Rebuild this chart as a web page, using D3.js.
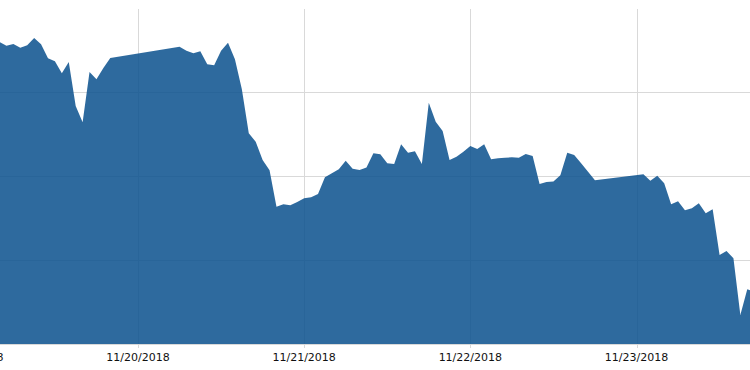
<!DOCTYPE html>
<html>
<head>
<meta charset="utf-8">
<script src="https://cdn.jsdelivr.net/npm/d3@7"></script>
<style>
  html, body { margin: 0; padding: 0; background: #fff; }
  svg { display: block; }
</style>
</head>
<body>
<div id="chart"></div>
<script>
// hourly readings, gaps are hours with no data
const times = [
  "2018-11-19 04:00", "2018-11-19 05:00", "2018-11-19 06:00", "2018-11-19 07:00",
  "2018-11-19 08:00", "2018-11-19 09:00", "2018-11-19 10:00", "2018-11-19 11:00",
  "2018-11-19 12:00", "2018-11-19 13:00", "2018-11-19 14:00", "2018-11-19 15:00",
  "2018-11-19 16:00", "2018-11-19 17:00", "2018-11-19 18:00", "2018-11-19 19:00",
  "2018-11-19 20:00",
  "2018-11-20 06:00", "2018-11-20 07:00", "2018-11-20 08:00", "2018-11-20 09:00",
  "2018-11-20 10:00", "2018-11-20 11:00", "2018-11-20 12:00", "2018-11-20 13:00",
  "2018-11-20 14:00", "2018-11-20 15:00", "2018-11-20 16:00", "2018-11-20 17:00",
  "2018-11-20 18:00", "2018-11-20 19:00", "2018-11-20 20:00", "2018-11-20 21:00",
  "2018-11-20 22:00", "2018-11-20 23:00", "2018-11-21 00:00", "2018-11-21 01:00",
  "2018-11-21 02:00", "2018-11-21 03:00", "2018-11-21 04:00", "2018-11-21 05:00",
  "2018-11-21 06:00", "2018-11-21 07:00", "2018-11-21 08:00", "2018-11-21 09:00",
  "2018-11-21 10:00", "2018-11-21 11:00", "2018-11-21 12:00", "2018-11-21 13:00",
  "2018-11-21 14:00", "2018-11-21 15:00", "2018-11-21 16:00", "2018-11-21 17:00",
  "2018-11-21 18:00", "2018-11-21 19:00", "2018-11-21 20:00", "2018-11-21 21:00",
  "2018-11-21 22:00", "2018-11-21 23:00", "2018-11-22 00:00", "2018-11-22 01:00",
  "2018-11-22 02:00", "2018-11-22 03:00", "2018-11-22 04:00", "2018-11-22 05:00",
  "2018-11-22 06:00", "2018-11-22 07:00", "2018-11-22 08:00", "2018-11-22 09:00",
  "2018-11-22 10:00", "2018-11-22 11:00", "2018-11-22 12:00", "2018-11-22 13:00",
  "2018-11-22 14:00", "2018-11-22 15:00", "2018-11-22 16:00", "2018-11-22 17:00",
  "2018-11-22 18:00",
  "2018-11-23 01:00", "2018-11-23 02:00", "2018-11-23 03:00", "2018-11-23 04:00",
  "2018-11-23 05:00", "2018-11-23 06:00", "2018-11-23 07:00", "2018-11-23 08:00",
  "2018-11-23 09:00", "2018-11-23 10:00", "2018-11-23 11:00", "2018-11-23 12:00",
  "2018-11-23 13:00", "2018-11-23 14:00", "2018-11-23 15:00", "2018-11-23 16:00",
  "2018-11-23 17:00"
];

const prices = [
  157.98, 157.76, 157.86, 157.64, 157.78, 158.21, 157.84, 157.01,
  156.83, 156.11, 156.79, 154.17, 153.20, 156.19, 155.76, 156.43,
  157.02,
  157.70, 157.46, 157.30, 157.42, 156.65, 156.59, 157.46, 157.93,
  156.95, 155.16, 152.54, 152.04, 150.95, 150.34, 148.17, 148.32,
  148.26, 148.45, 148.67, 148.73, 148.93, 149.92, 150.16, 150.40,
  150.91, 150.43, 150.36, 150.51, 151.35, 151.29, 150.76, 150.71,
  151.89, 151.39, 151.47, 150.71, 154.36, 153.23, 152.68, 150.95,
  151.15, 151.45, 151.79, 151.61, 151.89, 150.99, 151.05, 151.09,
  151.11, 151.09, 151.31, 151.19, 149.52, 149.64, 149.68, 150.04,
  151.39, 151.25, 150.76, 150.26, 149.74,
  150.10, 149.72, 150.02, 149.57, 148.32, 148.49, 147.96, 148.08,
  148.38, 147.78, 148.02, 145.30, 145.54, 145.10, 141.73, 143.26,
  143.10
];

const yTicks = [140, 145, 150, 155, 160];
// 11/19 sits mostly left of the visible area, only its last digit shows
const dayTicks = ["2018-11-19", "2018-11-20", "2018-11-21", "2018-11-22", "2018-11-23"];

const W = 750, H = 370;
const plotTop = 8, plotBottom = 344;

const parseTime = d3.timeParse("%Y-%m-%d %H:%M");
const parseDay = d3.timeParse("%Y-%m-%d");
const fmt = d3.timeFormat("%m/%d/%Y");

const data = times.map((t, i) => ({ t: parseTime(t), v: prices[i] }));

const x = d3.scaleTime()
  .domain([parseDay("2018-11-20"), parseDay("2018-11-23")])
  .range([138, 636.5]);

const y = d3.scaleLinear()
  .domain([140, 160])
  .range([plotBottom, plotTop]);

const svg = d3.select("#chart").append("svg")
  .attr("width", W)
  .attr("height", H);

// horizontal grid
svg.append("g")
  .selectAll("line")
  .data(yTicks.filter(d => d > 140 && d < 160))
  .enter().append("line")
  .attr("x1", 0).attr("x2", W)
  .attr("y1", d => Math.round(y(d)) + 0.5)
  .attr("y2", d => Math.round(y(d)) + 0.5)
  .attr("stroke", "#d9d9d9");

// vertical grid + tick marks
const days = dayTicks.map(parseDay);
svg.append("g")
  .selectAll("line")
  .data(days)
  .enter().append("line")
  .attr("x1", d => Math.round(x(d)) + 0.5)
  .attr("x2", d => Math.round(x(d)) + 0.5)
  .attr("y1", plotTop + 1)
  .attr("y2", plotBottom + 4)
  .attr("stroke", "#d9d9d9");

// baseline
svg.append("line")
  .attr("x1", 0).attr("x2", W)
  .attr("y1", plotBottom + 0.5).attr("y2", plotBottom + 0.5)
  .attr("stroke", "#d9d9d9");

const area = d3.area()
  .x(d => x(d.t))
  .y0(y(140))
  .y1(d => y(d.v));

svg.append("path")
  .datum(data)
  .attr("d", area)
  .attr("fill", "#09508d")
  .attr("fill-opacity", 0.85);

svg.append("g")
  .selectAll("text")
  .data(days)
  .enter().append("text")
  .attr("x", d => x(d))
  .attr("y", 361)
  .attr("text-anchor", "middle")
  .attr("font-family", "'DejaVu Sans', Verdana, sans-serif")
  .attr("font-size", "11px")
  .attr("fill", "#111")
  .text(d => fmt(d));
</script>
</body>
</html>
